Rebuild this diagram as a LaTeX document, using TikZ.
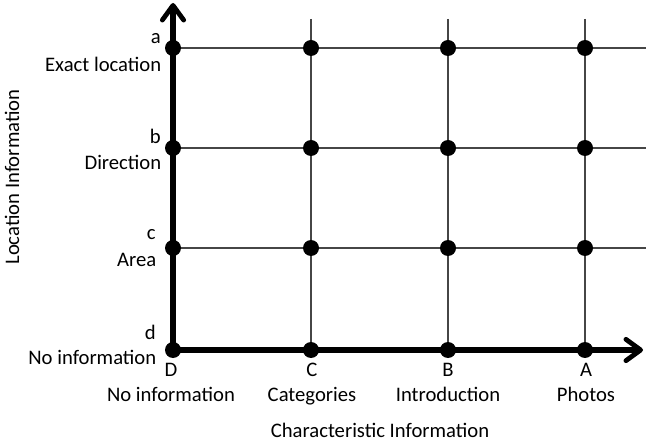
\documentclass[tikz,border=0pt]{standalone}
\usepackage{fontspec}
\setmainfont{Carlito}
\usetikzlibrary{arrows.meta,backgrounds}

\tikzset{
  dot/.style={circle,fill=black,inner sep=0pt,minimum size=12pt},
  gridline/.style={draw={rgb,255:red,70;green,70;blue,70},line width=1.1pt},
  axis/.style={line width=4.6pt,-{Straight Barb[length=11pt,width=16pt,line width=3.6pt,round]}},
  lbl/.style={inner sep=0pt,font=\fontsize{15.5}{19}\selectfont},
}

\begin{document}
\begin{tikzpicture}[x=0.75pt,y=0.75pt,yscale=-1,xscale=1]
  \useasboundingbox (0,0) rectangle (646,445);

  % grid points
  \node[dot] (Da) at (173,48) {};
  \node[dot] (Ca) at (311,48) {};
  \node[dot] (Ba) at (448,48) {};
  \node[dot] (Aa) at (585,48) {};
  \node[dot] (Db) at (173,148) {};
  \node[dot] (Cb) at (311,148) {};
  \node[dot] (Bb) at (448,148) {};
  \node[dot] (Ab) at (585,148) {};
  \node[dot] (Dc) at (173,248) {};
  \node[dot] (Cc) at (311,248) {};
  \node[dot] (Bc) at (448,248) {};
  \node[dot] (Ac) at (585,248) {};
  \node[dot] (Dd) at (173,350) {};
  \node[dot] (Cd) at (311,350) {};
  \node[dot] (Bd) at (448,350) {};
  \node[dot] (Ad) at (585,350) {};

  % line ends
  \coordinate (topC) at (311,19);
  \coordinate (topB) at (448,19);
  \coordinate (topA) at (585,19);
  \coordinate (rta) at (646,48);
  \coordinate (rtb) at (646,148);
  \coordinate (rtc) at (646,248);
  \coordinate (ytip) at (173,3);
  \coordinate (xtip) at (643,350);

  \begin{pgfonlayer}{background}
    % grid lines
    \draw[gridline] (topC) -- (Cd.center);
    \draw[gridline] (topB) -- (Bd.center);
    \draw[gridline] (topA) -- (Ad.center);
    \draw[gridline] (Da.center) -- (rta);
    \draw[gridline] (Db.center) -- (rtb);
    \draw[gridline] (Dc.center) -- (rtc);
    % axes
    \draw[axis] (Dd.center) -- (ytip);
    \draw[axis] (Dd.center) -- (xtip);
  \end{pgfonlayer}

  % Text Node
  \draw (161,39) node [anchor=east][lbl] {a};
  \draw (161.5,64) node [anchor=east][lbl] {Exact location};
  \draw (161,136) node [anchor=east][lbl] {b};
  \draw (161.5,162) node [anchor=east][lbl] {Direction};
  \draw (156,234.5) node [anchor=east][lbl] {c};
  \draw (156.5,259.5) node [anchor=east][lbl] {Area};
  \draw (156,332) node [anchor=east][lbl] {d};
  \draw (156.5,357) node [anchor=east][lbl] {No information};

  \draw (171,376.5) node [anchor=base][lbl] {D};
  \draw (171,401.5) node [anchor=base][lbl] {No information};
  \draw (312,376.5) node [anchor=base][lbl] {C};
  \draw (312,401.5) node [anchor=base][lbl] {Categories};
  \draw (448,376.5) node [anchor=base][lbl] {B};
  \draw (448,401.5) node [anchor=base][lbl] {Introduction};
  \draw (586,376.5) node [anchor=base][lbl] {A};
  \draw (586,401.5) node [anchor=base][lbl] {Photos};

  \draw (380,430) node [lbl] {Characteristic Information};
  \draw (12,177) node [lbl,rotate=90] {Location Information};
\end{tikzpicture}
\end{document}
